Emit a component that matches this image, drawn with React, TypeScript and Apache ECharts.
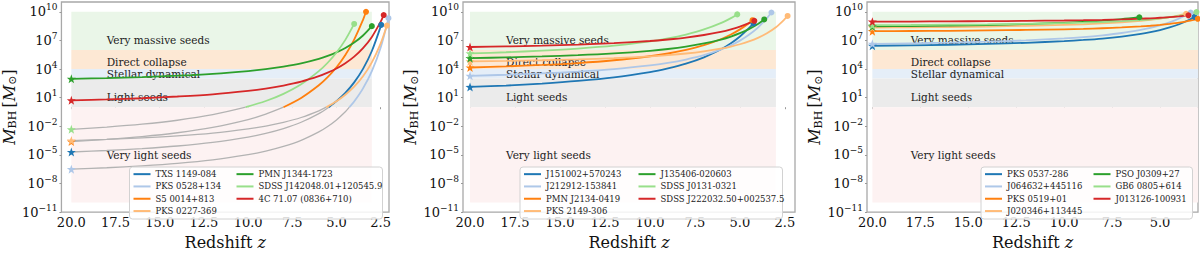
import React, { useEffect, useRef } from "react";
import * as echarts from "echarts";

type Pt = [number, number]; // [redshift z, log10(M_BH / M_sun)]

// ---------------- DATA ----------------
const xTicksAB = [20, 17.5, 15, 12.5, 10, 7.5, 5, 2.5];
const xTicksC = [20, 17.5, 15, 12.5, 10, 7.5, 5];
const yTicks = [-11, -8, -5, -2, 1, 4, 7, 10];

const bandNames = ["Very massive seeds", "Direct collapse", "Stellar dynamical", "Light seeds", "Very light seeds"];
const bandLow = [6, 4, 3, 0, -10];
const bandHigh = [10, 6, 4, 3, 0];
const bandZ: Pt = [3, 20];
const bandLabelZ = 18;
const bandLabelLogM = [7.07, 4.7, 3.5, 1.08, -5.0];

// Panel A
const namesA = ["TXS 1149-084", "PKS 0528+134", "S5 0014+813", "PKS 0227-369", "PMN J1344-1723", "SDSS J142048.01+120545.9", "4C 71.07 (0836+710)"];
const lightSeedPartA: Pt[][] = [
  [[20, -4.7], [18, -4.54], [16, -4.34], [14, -4.07], [12, -3.69], [10, -3.13], [9, -2.74], [8, -2.24], [7, -1.58], [6, -0.67], [5.43, 0]],
  [[20, -6.5], [18, -6.35], [16, -6.15], [14, -5.89], [12, -5.52], [10, -4.97], [9, -4.6], [8, -4.11], [7, -3.47], [6, -2.59], [5.5, -2.02], [5, -1.33], [4.5, -0.48], [4.27, 0]],
  [[20, -3.6], [18, -3.37], [16, -3.08], [14, -2.68], [12, -2.12], [10, -1.3], [9, -0.73], [8, 0]],
  [[20, -3.5], [18, -3.38], [16, -3.22], [14, -3.01], [12, -2.72], [10, -2.28], [9, -1.98], [8, -1.59], [7, -1.08], [6, -0.38], [5.58, 0]],
  [],
  [[20, -2.32], [18, -2.08], [16, -1.78], [14, -1.37], [12, -0.79], [10.14, 0]],
  [],
];
const growthA: Pt[][] = [
  [[5.43, 0], [5, 0.63], [4.5, 1.5], [4, 2.6], [3.5, 4.02], [3, 5.89], [2.47, 8.63]],
  [[4.27, 0], [4, 0.59], [3.5, 1.97], [3, 3.78], [2.5, 6.27], [2.06, 9.33]],
  [[8, 0], [7, 0.97], [6, 2.3], [5.5, 3.15], [5, 4.19], [4.5, 5.48], [4, 7.09], [3.5, 9.16], [3.33, 10]],
  [[5.58, 0], [5, 0.63], [4.5, 1.31], [4, 2.16], [3.5, 3.25], [3, 4.7], [2.5, 6.69], [2.15, 8.56]],
  [[20, 2.97], [18, 3.05], [16, 3.16], [14, 3.3], [12, 3.5], [10, 3.79], [9, 3.99], [8, 4.26], [7, 4.6], [6, 5.07], [5.5, 5.38], [5, 5.75], [4.5, 6.21], [4, 6.78], [3.5, 7.52], [3, 8.5]],
  [[10.14, 0], [9, 0.65], [8, 1.4], [7, 2.4], [6, 3.78], [5.5, 4.66], [5, 5.74], [4.5, 7.06], [4, 8.73]],
  [[20, 0.72], [18, 0.82], [16, 0.94], [14, 1.12], [12, 1.35], [10, 1.71], [9, 1.95], [8, 2.27], [7, 2.68], [6, 3.25], [5.5, 3.62], [5, 4.06], [4.5, 4.61], [4, 5.3], [3.5, 6.19], [3, 7.37], [2.5, 8.97], [2.33, 9.66]],
];

// Panel B
const namesB = ["J151002+570243", "J212912-153841", "PMN J2134-0419", "PKS 2149-306", "J135406-020603", "SDSS J0131-0321", "SDSS J222032.50+002537.5"];
const lightSeedPartB: Pt[][] = [[], [], [], [], [], [], []];
const growthB: Pt[][] = [
  [[20, 2.12], [18, 2.27], [16, 2.48], [14, 2.75], [12, 3.12], [10, 3.68], [9, 4.07], [8, 4.56], [7, 5.22], [6, 6.12], [5.5, 6.7], [5, 7.41], [4.5, 8.28], [4.25, 8.79]],
  [[20, 3.29], [18, 3.4], [16, 3.54], [14, 3.73], [12, 3.99], [10, 4.38], [9, 4.65], [8, 5.0], [7, 5.45], [6, 6.08], [5.5, 6.49], [5, 6.98], [4.5, 7.59], [4, 8.35], [3.5, 9.33], [3.25, 9.93]],
  [[20, 4.16], [18, 4.28], [16, 4.43], [14, 4.63], [12, 4.92], [10, 5.34], [9, 5.63], [8, 6.01], [7, 6.5], [6, 7.18], [5.5, 7.62], [5, 8.16], [4.5, 8.81], [4.3, 9.12]],
  [[20, 4.8], [18, 4.85], [16, 4.92], [14, 5.01], [12, 5.14], [10, 5.33], [9, 5.46], [8, 5.63], [7, 5.86], [6, 6.16], [5.5, 6.36], [5, 6.6], [4.5, 6.9], [4, 7.27], [3.5, 7.75], [3, 8.38], [2.5, 9.25], [2.35, 9.57]],
  [[20, 5.14], [18, 5.22], [16, 5.32], [14, 5.45], [12, 5.64], [10, 5.91], [9, 6.1], [8, 6.35], [7, 6.68], [6, 7.12], [5.5, 7.41], [5, 7.76], [4.5, 8.19], [4, 8.73], [3.65, 9.2]],
  [[20, 5.64], [18, 5.76], [16, 5.93], [14, 6.15], [12, 6.45], [10, 6.9], [9, 7.21], [8, 7.62], [7, 8.15], [6, 8.87], [5.5, 9.34], [5.15, 9.73]],
  [[20, 6.31], [18, 6.37], [16, 6.45], [14, 6.56], [12, 6.72], [10, 6.94], [9, 7.1], [8, 7.3], [7, 7.57], [6, 7.93], [5.5, 8.17], [5, 8.45], [4.5, 8.81], [4.2, 9.06]],
];

// Panel C
const namesC = ["PKS 0537-286", "J064632+445116", "PKS 0519+01", "J020346+113445", "PSO J0309+27", "GB6 0805+614", "J013126-100931"];
const lightSeedPartC: Pt[][] = [[], [], [], [], [], [], []];
const growthC: Pt[][] = [
  [[20, 6.44], [18, 6.49], [16, 6.55], [14, 6.64], [12, 6.75], [10, 6.93], [9, 7.05], [8, 7.2], [7, 7.41], [6, 7.69], [5.5, 7.87], [5, 8.09], [4.5, 8.36], [4, 8.7], [3.5, 9.14], [3.2, 9.47]],
  [[20, 6.64], [18, 6.7], [16, 6.77], [14, 6.87], [12, 7.01], [10, 7.21], [9, 7.35], [8, 7.54], [7, 7.78], [6, 8.11], [5.5, 8.32], [5, 8.58], [4.5, 8.9], [4, 9.3], [3.5, 9.81], [3.4, 9.93]],
  [[20, 7.97], [18, 7.99], [16, 8.01], [14, 8.05], [12, 8.1], [10, 8.17], [9, 8.21], [8, 8.28], [7, 8.36], [6, 8.47], [5.5, 8.54], [5, 8.63], [4.5, 8.74], [4, 8.87], [3.5, 9.05], [3.03, 9.27]],
  [[20, 8.35], [18, 8.38], [16, 8.41], [14, 8.46], [12, 8.53], [10, 8.63], [9, 8.69], [8, 8.78], [7, 8.9], [6, 9.06], [5.5, 9.16], [5, 9.28], [4.5, 9.44], [4, 9.63], [3.64, 9.8]],
  [[20, 8.47], [18, 8.51], [16, 8.56], [14, 8.62], [12, 8.72], [10, 8.85], [9, 8.95], [8, 9.07], [7, 9.23], [6.08, 9.43]],
  [[20, 8.6], [18, 8.62], [16, 8.65], [14, 8.68], [12, 8.74], [10, 8.81], [9, 8.86], [8, 8.93], [7, 9.02], [6, 9.14], [5.5, 9.22], [5, 9.32], [4.5, 9.44], [4, 9.58], [3.5, 9.77], [3.1, 9.97]],
  [[20, 8.97], [18, 8.98], [16, 9.0], [14, 9.02], [12, 9.05], [10, 9.09], [9, 9.12], [8, 9.16], [7, 9.21], [6, 9.28], [5.5, 9.32], [5, 9.38], [4.5, 9.44], [4, 9.53], [3.52, 9.63]],
];

// ---------------- STYLE / LAYOUT ----------------
const FONT = "DejaVu Serif";
const palette = ["#1f77b4", "#aec7e8", "#ff7f0e", "#ffbb78", "#2ca02c", "#98df8a", "#d62728"];
const bandColors = ["#eaf6e8", "#fde8d4", "#e5eef8", "#ebebeb", "#fdf2f2"];
const GRAY = "#b3b3b3";
const STAR = "path://M0,-10L2.35,-3.24L9.51,-3.09L3.8,1.24L5.88,8.09L0,4L-5.88,8.09L-3.8,1.24L-9.51,-3.09L-2.35,-3.24Z";

const panels = [
  { names: namesA, low: lightSeedPartA, grow: growthA, ticks: xTicksAB, left: 57, width: 332, zMin: 2.03, zMax: 20.56, legA: 133.5, legB: 236.5, boxL: 129.5, boxR: 382.5 },
  { names: namesB, low: lightSeedPartB, grow: growthB, ticks: xTicksAB, left: 463, width: 332, zMin: 1.94, zMax: 20.39, legA: 524, legB: 638.5, boxL: 520, boxR: 782.5 },
  { names: namesC, low: lightSeedPartC, grow: growthC, ticks: xTicksC, left: 867, width: 331, zMin: 3.02, zMax: 20.28, legA: 985, legB: 1093.5, boxL: 981, boxR: 1192.5 },
];
const GRID_TOP = 2;
const GRID_H = 221;
const Y_MIN = -11;
const Y_MAX = 11.03;
const SMOOTH = 0.3;

function buildOption() {
  const grid: any[] = [];
  const xAxis: any[] = [];
  const yAxis: any[] = [];
  const series: any[] = [];
  const legend: any[] = [];
  const graphic: any[] = [];

  panels.forEach((p, pi) => {
    grid.push({
      left: p.left, top: GRID_TOP, width: p.width, height: GRID_H,
      show: true, borderColor: "#a8a8a8", borderWidth: 1.3, backgroundColor: "transparent",
    });
    xAxis.push({
      type: "value", gridIndex: pi, inverse: true, min: p.zMin, max: p.zMax,
      splitLine: { show: false }, axisLine: { show: false },
      axisTick: { show: true, length: 2, lineStyle: { color: "#999" }, customValues: p.ticks },
      axisLabel: {
        customValues: p.ticks, margin: 4, color: "#111", fontFamily: FONT, fontSize: 13,
        formatter: (v: number) => v.toFixed(1),
      },
      name: "{n|Redshift }{i|z}", nameLocation: "middle", nameGap: 16,
      nameTextStyle: {
        rich: {
          n: { fontFamily: FONT, fontSize: 16, color: "#111" },
          i: { fontFamily: FONT, fontStyle: "italic", fontSize: 16, color: "#111" },
        },
      },
    });
    yAxis.push({
      type: "value", gridIndex: pi, min: Y_MIN, max: Y_MAX,
      splitLine: { show: false }, axisLine: { show: false },
      axisTick: { show: true, length: 2, lineStyle: { color: "#999" }, customValues: yTicks },
      axisLabel: {
        customValues: yTicks, margin: 4,
        formatter: (v: number) => `{b|10}{s|${v < 0 ? "\u2212" + -v : v}}`,
        rich: {
          b: { fontFamily: FONT, fontSize: 13, color: "#111" },
          s: { fontFamily: FONT, fontSize: 9, color: "#111", padding: [0, 0, 9, 0] },
        },
      },
      name: "{i|M}{s|BH} {n|[}{i|M}{s|\u2299}{n|]}", nameLocation: "middle", nameRotate: 90, nameGap: 38,
      nameTextStyle: {
        rich: {
          i: { fontFamily: FONT, fontStyle: "italic", fontSize: 16, color: "#111" },
          n: { fontFamily: FONT, fontSize: 16, color: "#111" },
          s: { fontFamily: FONT, fontSize: 11, color: "#111", padding: [7, 0, 0, 0] },
        },
      },
    });

    // seed-regime bands
    series.push({
      type: "custom", xAxisIndex: pi, yAxisIndex: pi, silent: true, z: 1,
      data: bandLow.map((lo, i) => [Math.max(bandZ[0], p.zMin), bandZ[1], lo, bandHigh[i], i]),
      renderItem: (params: any, api: any) => {
        const a = api.coord([api.value(0), api.value(3)]);
        const b = api.coord([api.value(1), api.value(2)]);
        return {
          type: "rect",
          shape: { x: Math.min(a[0], b[0]), y: Math.min(a[1], b[1]), width: Math.abs(a[0] - b[0]), height: Math.abs(a[1] - b[1]) },
          style: { fill: bandColors[api.value(4)] },
        };
      },
      encode: { x: [0, 1], y: [2, 3] },
    });
    // band labels
    series.push({
      type: "custom", xAxisIndex: pi, yAxisIndex: pi, silent: true, z: 2,
      data: bandLabelLogM.map((m, i) => [bandLabelZ, m, i]),
      renderItem: (params: any, api: any) => {
        const c = api.coord([api.value(0), api.value(1)]);
        return {
          type: "text", x: c[0], y: c[1],
          style: { text: bandNames[api.value(2)], font: `10.5px "${FONT}"`, fill: "#222", verticalAlign: "middle", align: "left" },
        };
      },
      encode: { x: 0, y: 1 },
    });

    p.names.forEach((name, i) => {
      const color = palette[i];
      if (p.low[i].length) {
        series.push({
          type: "line", name: "_light_" + name, xAxisIndex: pi, yAxisIndex: pi, data: p.low[i],
          smooth: SMOOTH, showSymbol: false, symbol: "none", z: 2,
          lineStyle: { color: GRAY, width: 1.3 }, itemStyle: { color: GRAY }, silent: true,
        });
      }
      series.push({
        type: "line", name, xAxisIndex: pi, yAxisIndex: pi, data: p.grow[i],
        smooth: SMOOTH, showSymbol: false, symbol: "none", z: 3,
        lineStyle: { color, width: 1.8 }, itemStyle: { color }, silent: true,
      });
      const start = p.low[i].length ? p.low[i][0] : p.grow[i][0];
      const end = p.grow[i][p.grow[i].length - 1];
      series.push({
        type: "scatter", name: "_mk_" + name, xAxisIndex: pi, yAxisIndex: pi, z: 4, silent: true,
        data: [
          { value: start, symbol: STAR, symbolSize: 9 },
          { value: end, symbol: "circle", symbolSize: 6 },
        ],
        itemStyle: { color, opacity: 1 },
      });
    });

    const legCommon = {
      orient: "vertical", top: 168, padding: 0, itemGap: 0, itemWidth: 17, itemHeight: 2,
      icon: "rect", itemTextGap: 6, selectedMode: false, z: 20,
      textStyle: { fontFamily: FONT, fontSize: 8.5, lineHeight: 12.3, color: "#222" },
    };
    legend.push({ ...legCommon, left: p.legA, data: p.names.slice(0, 4) });
    legend.push({ ...legCommon, left: p.legB, data: p.names.slice(4) });
    graphic.push({
      type: "rect", z: 10,
      shape: { x: p.boxL, y: 167, width: p.boxR - p.boxL, height: 52, r: 3 },
      style: { fill: "rgba(255,255,255,0.85)", stroke: "#d2d2d2", lineWidth: 1 },
    });
  });

  return { animation: false, backgroundColor: "#fff", grid, xAxis, yAxis, series, legend, graphic };
}

export default function App() {
  const ref = useRef<HTMLDivElement>(null);
  useEffect(() => {
    if (!ref.current) return;
    const chart = echarts.init(ref.current, undefined, { renderer: "svg" });
    chart.setOption(buildOption() as any);
    return () => chart.dispose();
  }, []);
  return <div ref={ref} style={{ position: "fixed", left: 0, top: 0, width: 1200, height: 255 }} />;
}
